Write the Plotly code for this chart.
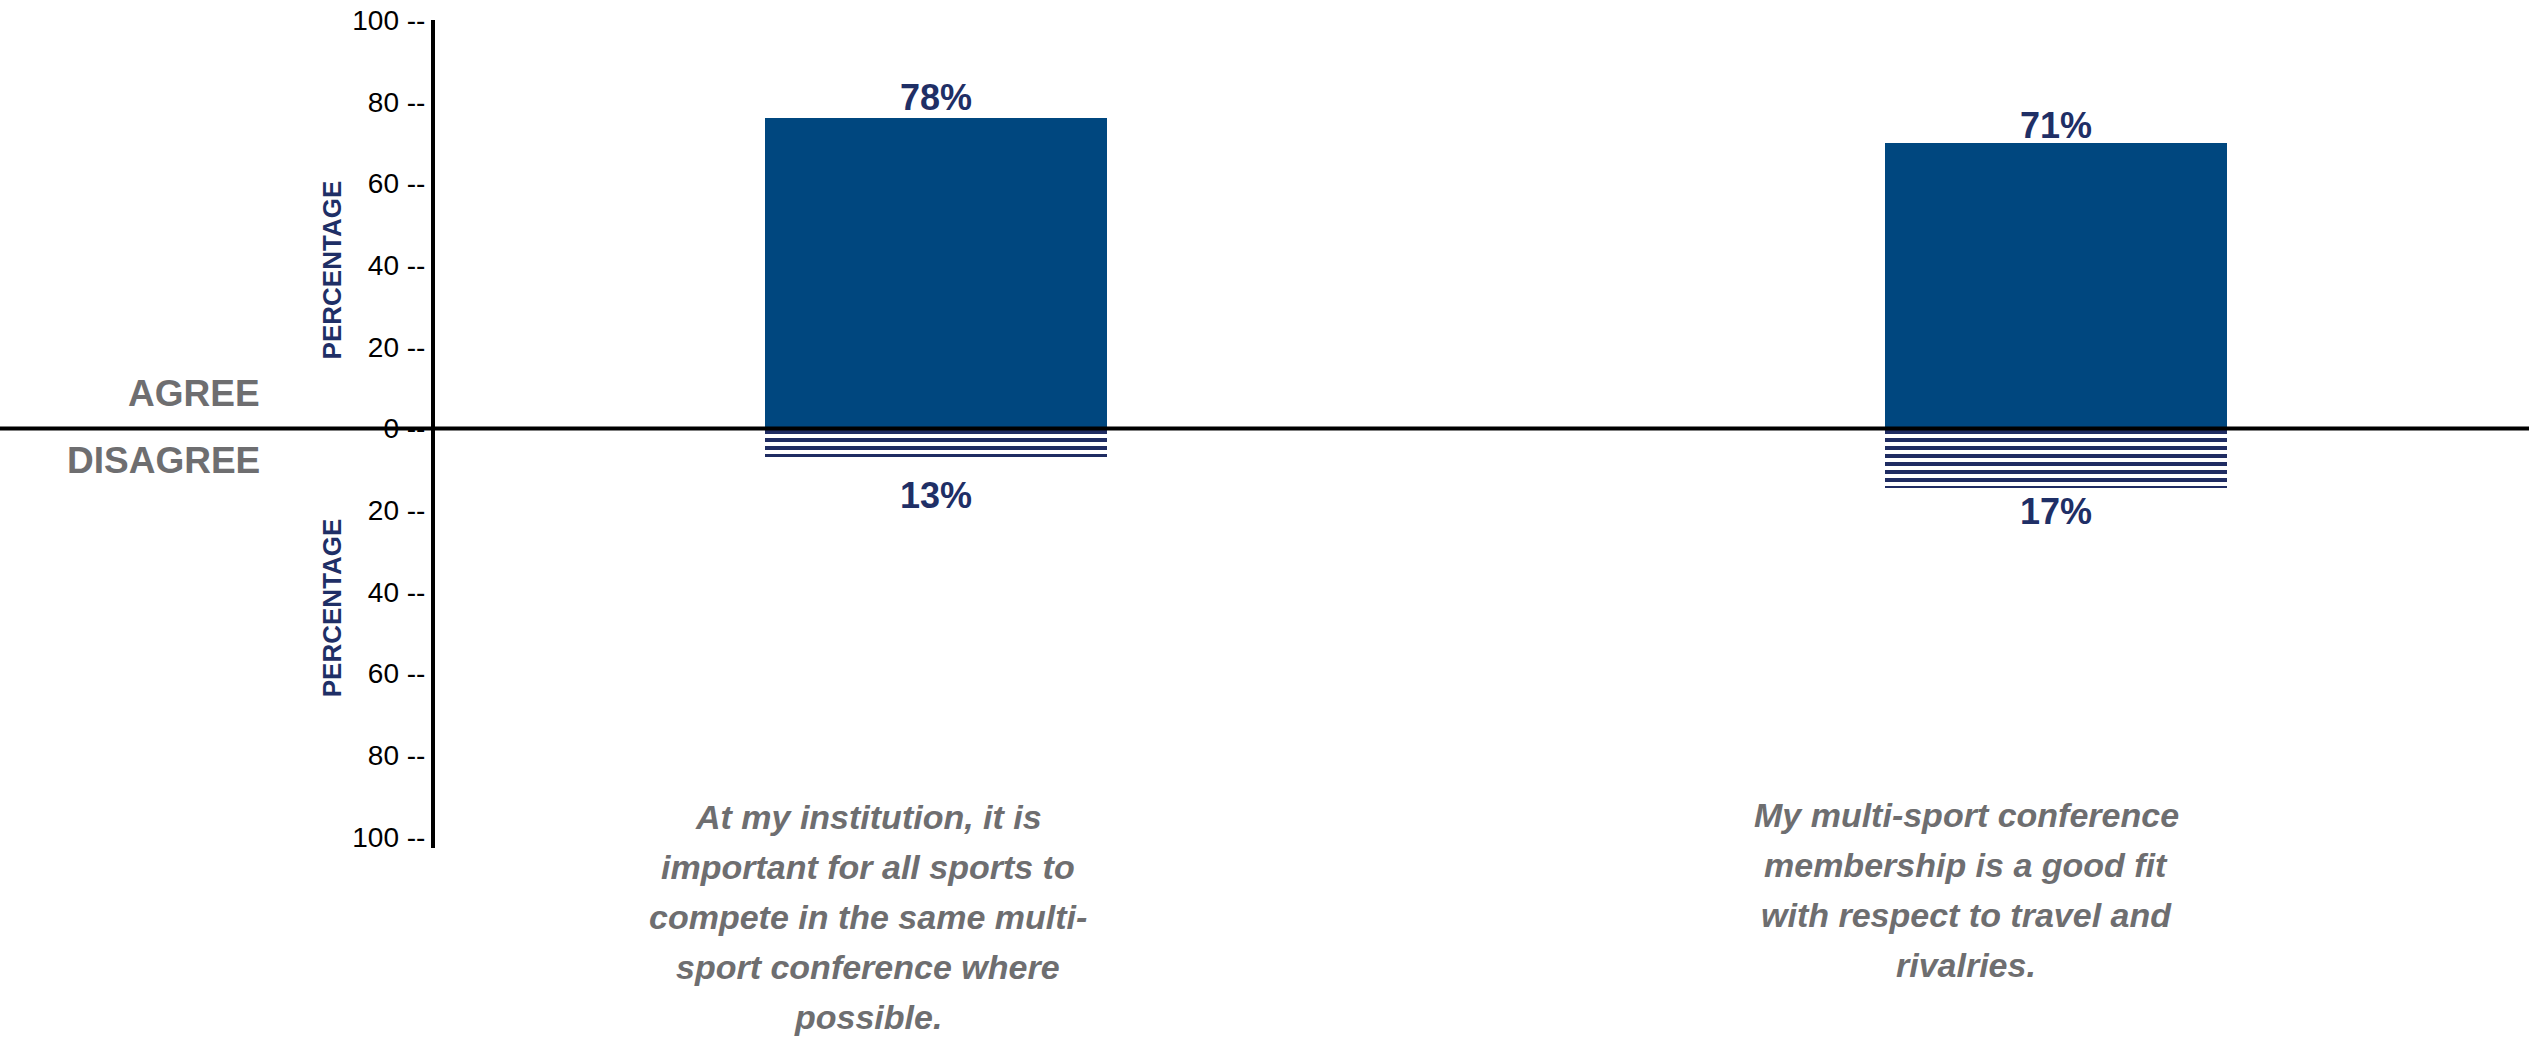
import plotly.graph_objects as go

# ---- data ----
categories = [
    "At my institution, it is<br>important for all sports to<br>compete in the same multi-<br>sport conference where<br>possible.",
    "My multi-sport conference<br>membership is a good fit<br>with respect to travel and<br>rivalries.",
]
agree_values = [76, 70]          # bar heights as drawn
disagree_values = [7, 14.5]      # bar depths as drawn
agree_labels = [78, 71]          # printed percentages
disagree_labels = [13, 17]
tick_values = [100, 80, 60, 40, 20, 0, -20, -40, -60, -80, -100]
tick_text = [f"{abs(v)} --" for v in tick_values]

# ---- style ----
W, H = 2529, 1046
TOP, BOTTOM = 20, 848            # plot area, in pixels
NAVY_BAR = "#00477F"
NAVY_TXT = "#1F2F66"
STRIPE = "#1F2C62"
GRAY = "#6E6E70"
FONT = "Liberation Sans, Arial, sans-serif"
LABEL_SHIFTS = [-68, -90]
LINE_TOPS = [817, 815]           # centre of first text line (px)
LINE_STEP = 50


def py(px):
    return (BOTTOM - px) / (BOTTOM - TOP)


fig = go.Figure()
fig.add_trace(go.Bar(
    x=categories, y=agree_values, width=0.305,
    marker=dict(color=NAVY_BAR, line=dict(width=0)),
    hoverinfo="skip", showlegend=False,
))
fig.add_trace(go.Bar(
    x=categories, y=[-v for v in disagree_values], width=0.305,
    marker=dict(color="white", line=dict(width=0),
                pattern=dict(shape="-", fgcolor=STRIPE, bgcolor="white",
                             size=8, solidity=0.5, fgopacity=1)),
    hoverinfo="skip", showlegend=False,
))

ann = []
for i, c in enumerate(categories):
    ann.append(dict(x=c, y=agree_labels[i], xref="x", yref="y", text=f"<b>{agree_labels[i]}%</b>",
                    showarrow=False, yanchor="bottom", yshift=-10,
                    font=dict(family=FONT, size=36, color=NAVY_TXT)))
    ann.append(dict(x=c, y=-disagree_labels[i], xref="x", yref="y", text=f"<b>{disagree_labels[i]}%</b>",
                    showarrow=False, yanchor="top", yshift=9,
                    font=dict(family=FONT, size=36, color=NAVY_TXT)))
    for j, line in enumerate(c.split("<br>")):
        ann.append(dict(x=c, y=py(LINE_TOPS[i] + j * LINE_STEP), xref="x", yref="paper",
                        text=f"<b><i>{line}</i></b>",
                        showarrow=False, yanchor="middle", xanchor="center", xshift=LABEL_SHIFTS[i],
                        font=dict(family=FONT, size=34, color=GRAY)))

# side labels
ann.append(dict(x=262 / W, y=0, xref="paper", yref="y", text="<b>AGREE</b>", showarrow=False,
                xanchor="right", yanchor="bottom", yshift=12,
                font=dict(family=FONT, size=37, color=GRAY)))
ann.append(dict(x=262 / W, y=0, xref="paper", yref="y", text="<b>DISAGREE</b>", showarrow=False,
                xanchor="right", yanchor="top", yshift=-10,
                font=dict(family=FONT, size=37, color=GRAY)))
for yc in (38.7, -44):
    ann.append(dict(x=332 / W, y=yc, xref="paper", yref="y", text="<b>PERCENTAGE</b>", showarrow=False,
                    textangle=-90, xanchor="center", yanchor="middle",
                    font=dict(family=FONT, size=26, color=NAVY_TXT)))

fig.update_layout(
    width=W, height=H,
    margin=dict(l=0, r=0, t=TOP, b=H - BOTTOM),
    paper_bgcolor="white", plot_bgcolor="white",
    barmode="relative", bargap=0,
    annotations=ann,
    shapes=[dict(type="line", xref="paper", yref="y", x0=0, x1=1, y0=0, y1=0,
                 line=dict(color="black", width=4), layer="above")],
    xaxis=dict(range=[-936 / 1120, (W - 936) / 1120], showticklabels=False, showgrid=False,
               zeroline=False, showline=False, ticks="", fixedrange=True),
    yaxis=dict(range=[-102.7, 100], tickvals=tick_values, ticktext=tick_text, ticks="",
               showgrid=False, zeroline=False, showline=True, linecolor="black", linewidth=4,
               anchor="free", position=433 / W, side="left",
               tickfont=dict(family=FONT, size=28, color="black"), fixedrange=True),
    font=dict(family=FONT),
)

fig.write_html("out.html", config={"displayModeBar": False},
               post_script="document.body.style.margin='0px';document.body.style.overflow='hidden';")
